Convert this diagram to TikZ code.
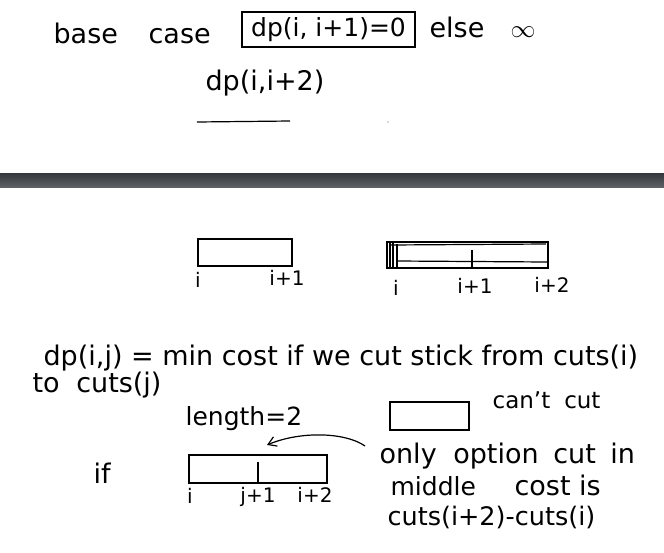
\documentclass[tikz,border=0pt]{standalone}
\usepackage{fontspec}
\setmainfont{DejaVu Sans}
\usetikzlibrary{arrows.meta}

\definecolor{bartop}{HTML}{34383C}
\definecolor{barbot}{HTML}{5E6266}

\begin{document}
\begin{tikzpicture}[x=1pt, y=-1pt, line width=1.2pt,
		hand/.style={font=\fontsize{27}{29}\selectfont, inner sep=0pt, anchor=base west},
		lbl/.style={font=\fontsize{20}{22}\selectfont, inner sep=0pt, anchor=base},
		stick/.style={draw, line width=1.2pt, inner sep=0pt}]
	\useasboundingbox (0,0) rectangle (664,552);
	% base case
	\node[hand] (base) at (53,43) {base};
	\node[hand] (case) at (148,43) {case};
	\node[hand, font=\fontsize{25}{27}\selectfont, anchor=center, draw, minimum width=173pt, minimum height=35pt] (dp1) at (328.5,29.5) {dp(i, i+1)=0};
	\node[hand] (else) at (429,37) {else};
	\node[hand, font=\fontsize{29}{31}\selectfont] (inf) at (510,37) {$\infty$};
	\node[hand] (dp2) at (205,90) {dp(i,i+2)};
	\draw (197,122) -- (290,121);
	\fill[gray!60] (388,122) circle (0.8);
	% divider
	\shade[top color=bartop, bottom color=barbot] (0,173) rectangle (664,187);
	% sticks
	\node[stick, minimum width=94pt, minimum height=27pt] (s1) at (245,252.5) {};
	\node[lbl] (s1a) at (198,287) {i};
	\node[lbl] (s1b) at (287,285) {i+1};
	\node[stick, minimum width=161pt, minimum height=26pt] (s2) at (467.5,255) {};
	\draw (390,245) -- (546,244);
	\draw (397,261) -- (547,262);
	\draw (390,243) -- (390,267);
	\draw (393,243) -- (393,267);
	\draw (397,244) -- (397,268);
	\draw (472,250) -- (472,267);
	\node[lbl] (s2a) at (396,295) {i};
	\node[lbl] (s2b) at (475,293) {i+1};
	\node[lbl] (s2c) at (552,292) {i+2};
	% recurrence
	\node[hand] (def) at (43,365) {dp(i,j) = min cost if we cut stick from cuts(i)};
	\node[hand] (to) at (32,392) {to\hspace{8pt} cuts(j)};
	\node[hand, font=\fontsize{25}{27}\selectfont] (len) at (185,425) {length=2};
	\node[stick, minimum width=79pt, minimum height=28pt] (cc) at (429.5,416) {};
	\node[hand, font=\fontsize{23}{25}\selectfont] (cant) at (492,408) {can't\hspace{14pt}cut};
	\node[hand] (opt) at (379,463) {only\hspace{8pt} option\hspace{6pt} cut\hspace{6pt} in};
	\node[hand] (if) at (93,483) {if};
	\node[stick, minimum width=138pt, minimum height=28pt] (s3) at (258,469) {};
	\draw (258,462) -- (258,483);
	\node[lbl] (s3a) at (190,503) {i};
	\node[lbl] (s3b) at (258,502) {j+1};
	\node[lbl] (s3c) at (315,502) {i+2};
	\node[hand, font=\fontsize{25}{27}\selectfont] (mid) at (390,495) {middle};
	\node[hand, font=\fontsize{27}{29}\selectfont] (costis) at (514,495) {cost is};
	\node[hand, font=\fontsize{25.5}{27}\selectfont] (cost) at (387,525) {cuts(i+2)-cuts(i)};
	\coordinate (tail) at (365,446);
	\coordinate (tip) at (267,445);
	\draw[-{Straight Barb[length=8pt, width=10pt]}] (tail) .. controls (345,432) and (300,431) .. (tip);
\end{tikzpicture}
\end{document}
